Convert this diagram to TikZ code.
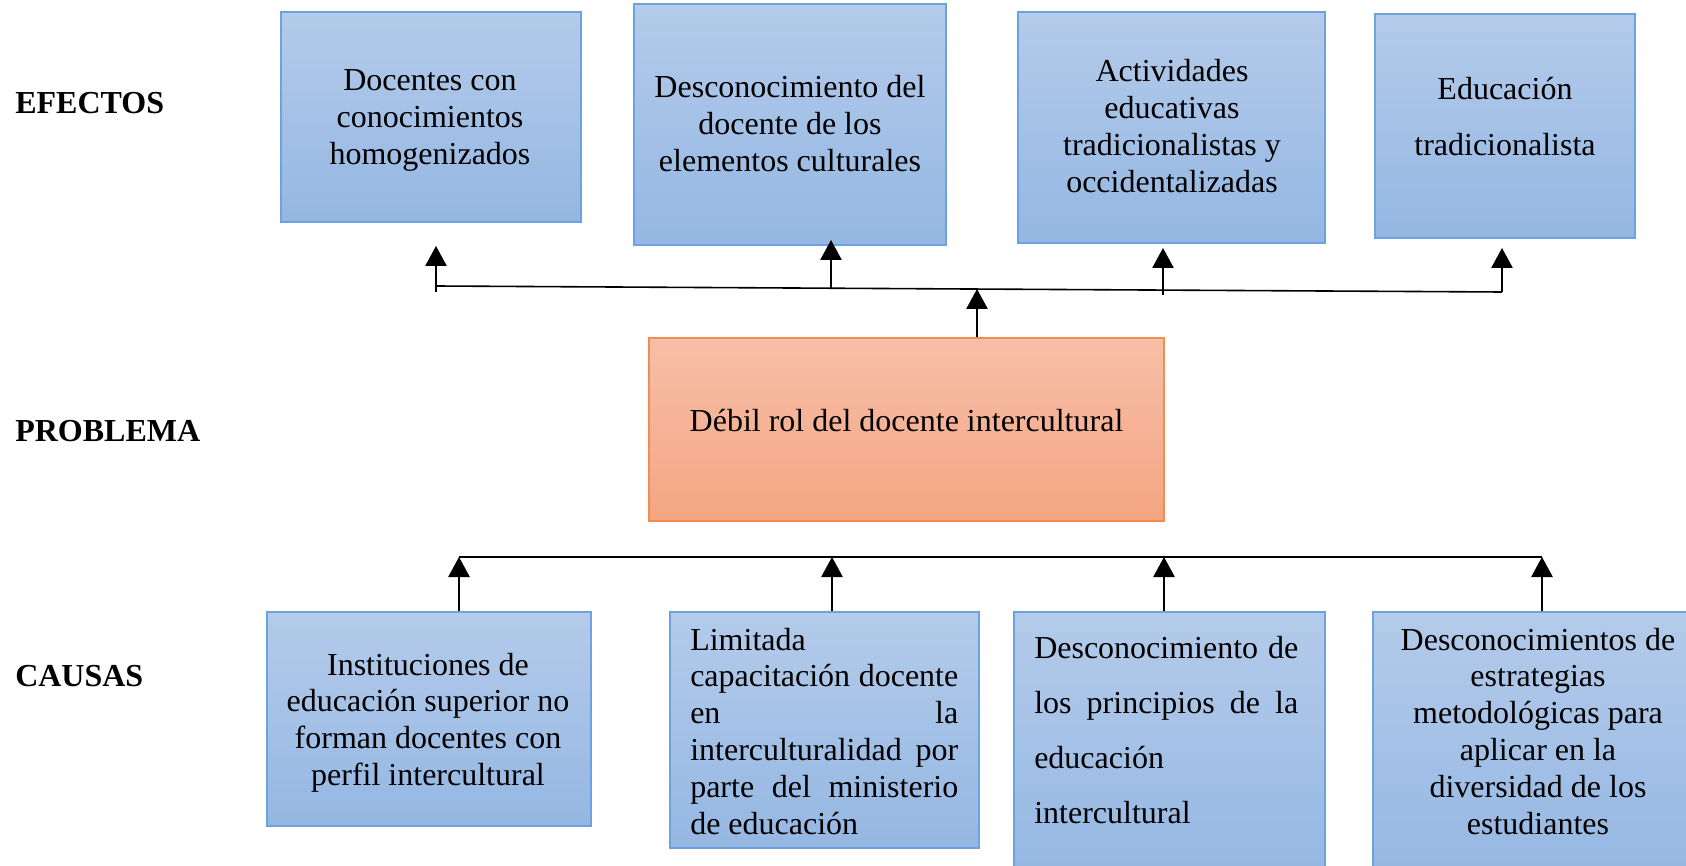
\documentclass[tikz,border=0pt]{standalone}
\usepackage{fontspec}
\setmainfont{Liberation Serif}
\usetikzlibrary{arrows.meta}
\definecolor{bluetop}{RGB}{180,203,234}
\definecolor{bluebot}{RGB}{148,183,227}
\definecolor{blueline}{RGB}{110,162,222}
\definecolor{orgtop}{RGB}{247,191,168}
\definecolor{orgbot}{RGB}{244,165,130}
\definecolor{orgline}{RGB}{242,140,80}
\newcommand\bodyfont{\fontsize{24}{27.6}\selectfont}
\tikzset{
  bbox/.style={draw=blueline, line width=0.9pt, top color=bluetop, bottom color=bluebot, inner sep=0pt},
  obox/.style={draw=orgline, line width=0.9pt, top color=orgtop, bottom color=orgbot, inner sep=0pt},
  txt/.style={inner sep=0pt, anchor=base, font=\bodyfont},
  txtl/.style={inner sep=0pt, anchor=base west, font=\bodyfont},
  lbl/.style={inner sep=0pt, anchor=base west, font=\fontsize{24}{27.6}\selectfont\bfseries},
  conn/.style={line width=1.2pt, black},
  arr/.style={line width=1.2pt, black, -{Triangle[width=16pt,length=15pt]}}
}
\begin{document}
\begin{tikzpicture}[x=0.75pt,y=-0.75pt]
\useasboundingbox (0,0) rectangle (1686,866);
\clip (0,0) rectangle (1686,866);
% labels
\node[lbl] (lef) at (15,114) {EFECTOS};
\node[lbl] (lpr) at (15,441.7) {PROBLEMA};
\node[lbl] (lca) at (15,686) {CAUSAS};
% effect boxes
\node[bbox, minimum width=225pt, minimum height=157.5pt] (e1) at (431,117) {};
\node[bbox, minimum width=234pt, minimum height=180.75pt] (e2) at (790,124.5) {};
\node[bbox, minimum width=230.25pt, minimum height=173.25pt] (e3) at (1171.5,127.5) {};
\node[bbox, minimum width=195pt, minimum height=168pt] (e4) at (1505,126) {};
\node[txt] (te1) at (430,90.7) {\parbox[t]{300pt}{\centering\bodyfont Docentes con\\conocimientos\\homogenizados}};
\node[txt] (te2) at (790,97.7) {\parbox[t]{300pt}{\centering\bodyfont Desconocimiento del\\docente de los\\elementos culturales}};
\node[txt] (te3) at (1172,81.7) {\parbox[t]{300pt}{\centering\bodyfont Actividades\\educativas\\tradicionalistas y\\occidentalizadas}};
\node[txt] (te4) at (1505,100) {\parbox[t]{300pt}{\centering\fontsize{24}{41.4}\selectfont Educación\\tradicionalista}};
% problem box
\node[obox, minimum width=386.25pt, minimum height=137.25pt] (p) at (906.5,429.5) {};
\node[txt] (tp) at (906.5,431.7) {Débil rol del docente intercultural};
% cause boxes
\node[bbox, minimum width=243pt, minimum height=160.5pt] (c1) at (429,719) {};
\node[bbox, minimum width=231.75pt, minimum height=177pt] (c2) at (824.5,730) {};
\node[bbox, minimum width=233.25pt, minimum height=201pt] (c3) at (1169.5,746) {};
\node[bbox, minimum width=252.75pt, minimum height=201pt] (c4) at (1541.5,746) {};
\node[txt] (tc1) at (428,675) {\parbox[t]{300pt}{\centering\bodyfont Instituciones de\\educación superior no\\forman docentes con\\perfil intercultural}};
\node[txtl] (tc2) at (690,650) {\parbox[t]{201pt}{\bodyfont\raggedright Limitada\\\makebox[\linewidth][s]{capacitación docente}\\\makebox[\linewidth][s]{en\hfill la}\\\makebox[\linewidth][s]{interculturalidad por}\\\makebox[\linewidth][s]{parte del ministerio}\\de educación}};
\node[txtl] (tc3) at (1034,658) {\parbox[t]{198pt}{\fontsize{24}{41.4}\selectfont\raggedright \makebox[\linewidth][s]{Desconocimiento de}\\\makebox[\linewidth][s]{los principios de la}\\educación\\intercultural}};
\node[txt] (tc4) at (1538,650) {\parbox[t]{300pt}{\centering\bodyfont Desconocimientos de\\estrategias\\metodológicas para\\aplicar en la\\diversidad de los\\estudiantes}};
% effect connectors
\coordinate (h1) at (436,286);
\coordinate (h4) at (1502,292);
\coordinate (s1) at (436,292);
\coordinate (a1) at (436,246);
\coordinate (s2) at (831,288.2);
\coordinate (a2) at (831,240);
\coordinate (s3) at (1163,295);
\coordinate (a3) at (1163,248);
\coordinate (a4) at (1502,248);
\coordinate (pa) at (977,289);
\draw[conn] (h1) -- (h4);
\draw[arr] (s1) -- (a1);
\draw[arr] (s2) -- (a2);
\draw[arr] (s3) -- (a3);
\draw[arr] (h4) -- (a4);
\draw[arr] (pa |- p.north) -- (pa);
% cause connectors
\coordinate (k1) at (459,557);
\coordinate (k2) at (832,557);
\coordinate (k3) at (1164,557);
\coordinate (k4) at (1542,557);
\draw[conn] (k1) -- (k4);
\draw[arr] (k1 |- c1.north) -- (k1);
\draw[arr] (k2 |- c2.north) -- (k2);
\draw[arr] (k3 |- c3.north) -- (k3);
\draw[arr] (k4 |- c4.north) -- (k4);
\end{tikzpicture}
\end{document}
